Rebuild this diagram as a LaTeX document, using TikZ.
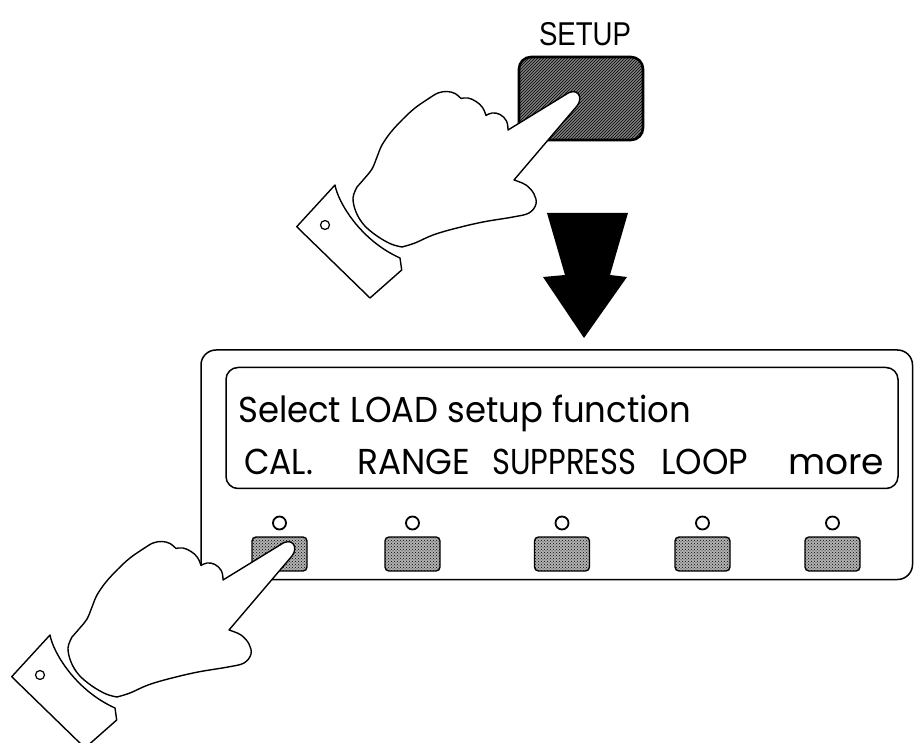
\documentclass[tikz,border=0pt]{standalone}
\usepackage{fontspec}
\usepackage{graphicx}
\usetikzlibrary{patterns}
\newfontfamily\lcdfont{Poppins}
\newfontfamily\keyfont{Liberation Sans}

% stretch a text horizontally to a given width, keeping its height
\newcommand\fitw[2]{\resizebox{#1}{\height}{#2}}

\tikzset{
  outline/.style={line width=1.5pt, line join=round},
  keycap/.style={line width=1.4pt, rounded corners=4pt, fill=black!30,
                 postaction={pattern=crosshatch dots}},
  led/.style={line width=1.8pt, fill=white},
  lcdtext/.style={inner sep=0pt, anchor=base west,
                  font=\lcdfont\fontsize{36}{40}\selectfont},
  handline/.style={line width=1.4pt, fill=white, line join=round},
  pointer/.pic={
    % shirt cuff
    \draw[handline] (50,635) .. controls (53,652) and (75,690) .. (115,708)
      -- (116.7,720) -- (85,748) -- (11.7,676.7) -- cycle;
    \draw[line width=1.2pt] (40,675) circle[radius=4.5];
    % hand with pointing index finger
    \draw[handline] (229,630) -- (292,556)
      .. controls (299,547) and (292,536) .. (280,545) -- (223,580)
      -- plot[smooth,tension=.7] coordinates {(223,580) (221.5,571) (215,564.5) (207,563) (201,565.5)}
      -- plot[smooth,tension=.7] coordinates {(201,565.5) (197.5,557.5) (191,551.5) (183,548) (176,548.5)}
      -- plot[smooth,tension=.6] coordinates {(176,548.5) (170,543.5) (162,541.5) (153,543) (143,549)
           (130,558) (118,569) (106,582) (97,595) (92,607) (87,619) (79,629) (72,637)}
      -- plot[smooth,tension=.6] coordinates {(72,637) (68,648) (71,662) (79,675) (92,686) (106,694) (117,697)}
      -- plot[smooth,tension=.6] coordinates {(117,697) (130,693) (148,685) (170,678.5) (198,672)
           (228,667) (244,663) (251,654) (249,644) (241,635) (229,630)}
      -- cycle;
  }
}

\begin{document}
\begin{tikzpicture}[x=1pt,y=-1pt]
\useasboundingbox (0,0) rectangle (914,743);

% SETUP key
\node[inner sep=0pt, anchor=base, font=\keyfont\fontsize{33}{36}\selectfont]
  (setuplabel) at (585,46) {\fitw{92pt}{SETUP}};
\draw[line width=2.6pt, rounded corners=12pt, fill=black!50,
      postaction={pattern=north east lines}] (519,57) rectangle (643,140);

% big down arrow
\fill (547,213) -- (628,213) -- (610,275) -- (627,277) -- (584,338)
      -- (543,277) -- (565,275) -- cycle;

% front panel and display
\draw[outline, rounded corners=15pt] (201,350) rectangle (912.5,579.5);
\draw[outline, rounded corners=12pt] (226,367.5) rectangle (898,488.5);

\node[lcdtext] (prompt)   at (238,422.5) {\fitw{453pt}{Select LOAD setup function}};
\node[lcdtext] (cal)      at (244,475) {\fitw{69pt}{CAL.}};
\node[lcdtext] (range)    at (357,475) {\fitw{113pt}{RANGE}};
\node[lcdtext] (suppress) at (492,475) {\fitw{144pt}{SUPPRESS}};
\node[lcdtext] (loop)     at (661,475) {\fitw{87pt}{LOOP}};
\node[lcdtext] (more)     at (788,475) {\fitw{96pt}{more}};

% soft keys with indicator lamps
\foreach \x in {279.5,412.5,562,702.5,832.5} {
  \draw[led] (\x,523) circle[radius=6.5];
  \draw[keycap] (\x-27.5,537) rectangle (\x+27.5,571);
}

% hands
\pic at (285,-450) {pointer};
\pic at (0,0) {pointer};
\end{tikzpicture}
\end{document}
